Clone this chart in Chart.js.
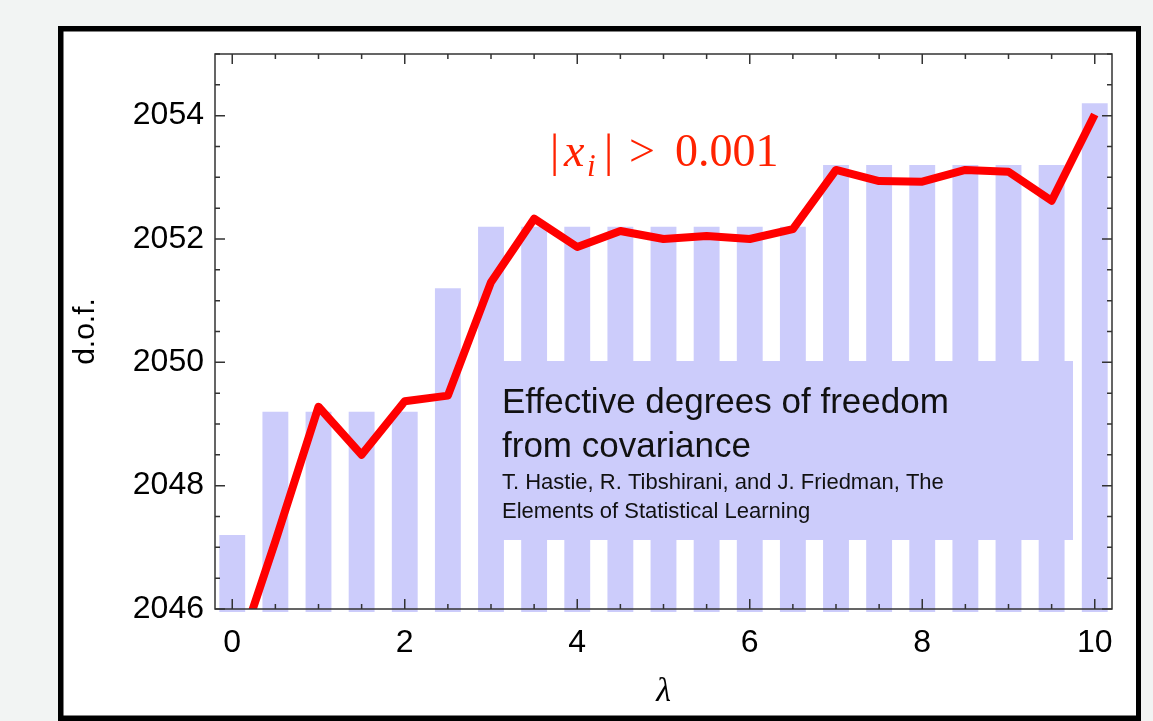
<!DOCTYPE html>
<html>
<head>
<meta charset="utf-8">
<title>Effective degrees of freedom</title>
<script src="https://cdn.jsdelivr.net/npm/chart.js"></script>
<style>
    html, body { margin: 0; padding: 0; background: #f2f4f3; }
    canvas { display: block; }
</style>
</head>
<body>
<canvas id="chartDof" width="1153" height="721"></canvas>
<script>
// lambda grid shared by bars and curve
const lambdas = [0, 0.5, 1, 1.5, 2, 2.5, 3, 3.5, 4, 4.5, 5, 5.5, 6, 6.5, 7, 7.5, 8, 8.5, 9, 9.5, 10];
// count of |x_i| > 0.001 (bars)
const barDof = [2047.2, 2049.2, 2049.2, 2049.2, 2049.2, 2051.2, 2052.2, 2052.2, 2052.2, 2052.2, 2052.2,
                2052.2, 2052.2, 2052.2, 2053.2, 2053.2, 2053.2, 2053.2, 2053.2, 2053.2, 2054.2];
// effective d.o.f. from covariance (red curve)
const covDof = [2045.0, 2047.1, 2049.28, 2048.5, 2049.37, 2049.46, 2051.3, 2052.33, 2051.87, 2052.13, 2052.0,
                2052.05, 2052.0, 2052.16, 2053.12, 2052.94, 2052.93, 2053.12, 2053.09, 2052.62, 2054.02];
const xTicks = [0, 2, 4, 6, 8, 10];
const yTicks = [2046, 2048, 2050, 2052, 2054];

const boxTitle = ['Effective degrees of freedom', 'from covariance'];
const boxRef = ['T. Hastie, R. Tibshirani, and J. Friedman, The', 'Elements of Statistical Learning'];

const barColor = 'rgb(204,204,251)';

function toPoints(xs, ys) {
    return xs.map(function (x, i) { return {x: x, y: ys[i]}; });
}

// grey page, black frame, white sheet
const pagePlugin = {
    id: 'page',
    beforeDraw: function (chart) {
        const ctx = chart.ctx;
        ctx.save();
        ctx.fillStyle = '#f2f4f3';
        ctx.fillRect(0, 0, chart.width, chart.height);
        ctx.fillStyle = '#000';
        ctx.fillRect(58, 26, 1083, 700);
        ctx.fillStyle = '#fff';
        ctx.fillRect(63.5, 31.5, 1072.5, 684);
        ctx.restore();
    }
};

// frame with inward ticks on all four sides, caption box and red label
const framePlugin = {
    id: 'frame',
    afterDatasetsDraw: function (chart) {
        const ctx = chart.ctx;
        const a = chart.chartArea;
        const xs = chart.scales.x;
        const ys = chart.scales.y;
        ctx.save();

        // caption box
        ctx.fillStyle = barColor;
        ctx.fillRect(481, 361, 592, 179);
        ctx.fillStyle = '#111';
        ctx.font = '35px "Liberation Sans", Arial, sans-serif';
        ctx.fillText(boxTitle[0], 502, 413);
        ctx.fillText(boxTitle[1], 502, 457);
        ctx.font = '22px "Liberation Sans", Arial, sans-serif';
        ctx.fillText(boxRef[0], 502, 489);
        ctx.fillText(boxRef[1], 502, 518);

        // frame
        ctx.strokeStyle = '#333';
        ctx.lineWidth = 1.5;
        ctx.strokeRect(a.left, a.top, a.right - a.left, a.bottom - a.top);

        ctx.beginPath();
        for (let v = 0; v <= 10; v += 0.5) {
            const px = xs.getPixelForValue(v);
            const len = xTicks.indexOf(v) >= 0 ? 10 : 5;
            ctx.moveTo(px, a.bottom); ctx.lineTo(px, a.bottom - len);
            ctx.moveTo(px, a.top); ctx.lineTo(px, a.top + len);
        }
        for (let v = 2046; v <= 2055; v += 0.5) {
            const py = ys.getPixelForValue(v);
            const len = yTicks.indexOf(v) >= 0 ? 10 : 5;
            ctx.moveTo(a.left, py); ctx.lineTo(a.left + len, py);
            ctx.moveTo(a.right, py); ctx.lineTo(a.right - len, py);
        }
        ctx.stroke();

        // |x_i| > 0.001
        ctx.fillStyle = '#ff2200';
        ctx.font = '46px "Liberation Serif", "Times New Roman", serif';
        ctx.fillText('|', 550, 166);
        ctx.font = 'italic 46px "Liberation Serif", "Times New Roman", serif';
        ctx.fillText('x', 564, 166);
        ctx.font = 'italic 31px "Liberation Serif", "Times New Roman", serif';
        ctx.fillText('i', 587, 176);
        ctx.font = '46px "Liberation Serif", "Times New Roman", serif';
        ctx.fillText('|', 604, 166);
        ctx.fillText('>', 629, 166);
        ctx.fillText('0.001', 675, 166);

        ctx.restore();
    }
};

const ctx = document.getElementById('chartDof');
const config = {
    type: 'bar',
    data: {
        datasets: [{
            type: 'line',
            data: toPoints(lambdas, covDof),
            borderColor: '#ff0000',
            borderWidth: 8,
            borderJoinStyle: 'round',
            pointRadius: 0,
            tension: 0,
            fill: false,
            clip: 0
        }, {
            type: 'bar',
            data: toPoints(lambdas, barDof),
            base: 2045.95,
            backgroundColor: barColor,
            borderWidth: 0,
            categoryPercentage: 1,
            barPercentage: 0.6,
            clip: {left: 0, top: 0, right: 0, bottom: 4}
        }]
    },
    options: {
        responsive: false,
        animation: false,
        events: [],
        layout: {
            padding: {left: 0, top: 54, right: 41, bottom: 0}
        },
        plugins: {
            legend: {display: false},
            tooltip: {enabled: false}
        },
        scales: {
            x: {
                type: 'linear',
                min: -0.2,
                max: 10.2,
                offset: false,
                afterFit: function (scale) { scale.height = 112; },
                grid: {display: false, drawTicks: false, offset: false},
                border: {display: false},
                ticks: {
                    stepSize: 2,
                    includeBounds: false,
                    padding: 15,
                    color: '#000',
                    font: {family: '"Liberation Sans", Arial, sans-serif', size: 32},
                    callback: function (value) { return String(value); }
                },
                title: {
                    display: true,
                    text: 'λ',
                    color: '#000',
                    padding: {top: 0, bottom: 9},
                    font: {family: '"Liberation Serif", "Times New Roman", serif', size: 34, style: 'italic'}
                }
            },
            y: {
                min: 2046,
                max: 2055,
                afterFit: function (scale) { scale.width = 215; },
                grid: {display: false, drawTicks: false},
                border: {display: false},
                ticks: {
                    stepSize: 2,
                    includeBounds: false,
                    padding: 11,
                    color: '#000',
                    font: {family: '"Liberation Sans", Arial, sans-serif', size: 32},
                    callback: function (value) { return String(value); }
                },
                title: {
                    display: true,
                    text: 'd.o.f.',
                    color: '#000',
                    padding: {top: 68, bottom: 0},
                    font: {family: '"Liberation Sans", Arial, sans-serif', size: 30}
                }
            }
        }
    },
    plugins: [pagePlugin, framePlugin]
};
const myChart = new Chart(ctx, config);
</script>
</body>
</html>
